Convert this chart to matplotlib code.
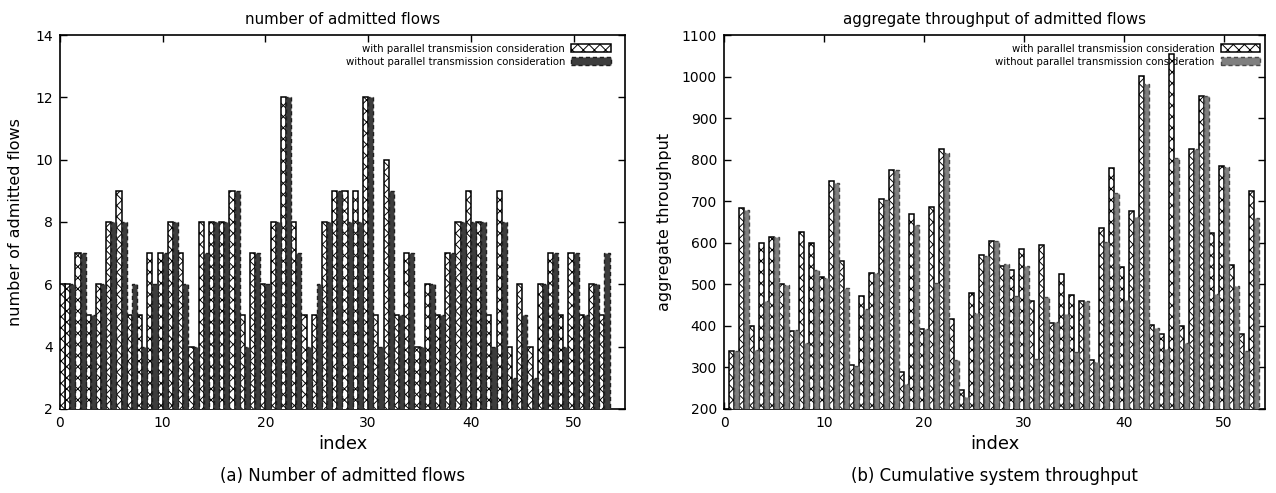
import numpy as np
import matplotlib
matplotlib.use("Agg")
import matplotlib.pyplot as plt

# index of each experiment run
idx = np.arange(1, 54)

# (a) number of admitted flows
flows_with = [6, 7, 5, 6, 8, 9, 5, 5, 7, 7, 8, 7, 4, 8, 8, 8, 9, 5, 7, 6, 8, 12, 8, 5, 5, 8, 9,
              9, 9, 12, 5, 10, 5, 7, 4, 6, 5, 7, 8, 9, 8, 5, 9, 4, 6, 4, 6, 7, 5, 7, 5, 6, 5]
flows_without = [6, 7, 5, 6, 8, 8, 6, 4, 6, 7, 8, 6, 4, 7, 8, 8, 9, 4, 7, 6, 8, 12, 7, 4, 6, 8, 9,
                 8, 8, 12, 4, 9, 5, 7, 4, 6, 5, 7, 8, 8, 8, 4, 8, 3, 5, 3, 6, 7, 4, 7, 5, 6, 7]
# stray "with" column drawn at the very left edge of plot (a)
lead_idx = [0]
lead_with = [6]

# (b) aggregate throughput
thr_with = [339, 683, 400, 599, 613, 500, 387, 625, 600, 518, 748, 555, 305, 472, 528, 705, 776,
            290, 670, 392, 686, 825, 417, 245, 479, 571, 605, 545, 535, 585, 459, 595, 407, 525,
            475, 461, 317, 635, 780, 541, 677, 1002, 403, 381, 1055, 400, 826, 953, 623, 785,
            547, 380, 725]
thr_without = [340, 680, 343, 460, 615, 498, 390, 360, 535, 515, 745, 490, 303, 440, 527, 703,
               775, 260, 643, 392, 503, 815, 319, 228, 432, 568, 605, 548, 472, 545, 320, 470,
               410, 428, 336, 459, 313, 603, 720, 463, 663, 981, 395, 344, 803, 360, 825, 953,
               476, 783, 496, 339, 659]

lab_with = "with parallel transmission consideration"
lab_without = "without parallel transmission consideration"

plt.rcParams['hatch.linewidth'] = 0.7
plt.rcParams['font.family'] = ['DejaVu Sans']

fig = plt.figure(figsize=(12.76, 4.93), dpi=100)
ax1 = fig.add_axes([0.0470, 0.1704, 0.4428, 0.7586])
ax2 = fig.add_axes([0.5674, 0.1704, 0.4240, 0.7586])

w = 0.5


def draw(ax, v_with, v_without, dark, dark_edge):
    ax.bar(idx - w / 2, v_with, width=w, color='white', edgecolor='black',
           hatch='xxx', linewidth=1.1, label=lab_with, zorder=3)
    ax.bar(idx + w / 2, v_without, width=w, color=dark, edgecolor=dark_edge,
           linestyle=(0, (3, 2)), linewidth=1.0, label=lab_without, zorder=3)
    ax.tick_params(direction='in', top=True, right=True, length=5, width=1,
                   labelsize=10, pad=5)
    for s in ax.spines.values():
        s.set_linewidth(1.2)
    ax.set_xticks(range(0, 51, 10))
    ax.set_xlabel('index', fontsize=13, labelpad=4)


draw(ax1, flows_with, flows_without, '#3d3d3d', '#1e1e1e')
ax1.bar(lead_idx, lead_with, width=w, align='edge', color='white', edgecolor='black',
        hatch='xxx', linewidth=1.1, zorder=3)
ax1.set_xlim(0, 55)
ax1.set_ylim(2, 14)
ax1.set_yticks(range(2, 15, 2))
ax1.set_title('number of admitted flows', fontsize=10.8, pad=8)
ax1.set_ylabel('number of admitted flows', fontsize=11.5, labelpad=9)

draw(ax2, thr_with, thr_without, '#7f7f7f', '#4a4a4a')
ax2.set_xlim(0, 54.1)
ax2.set_ylim(200, 1100)
ax2.set_yticks(range(200, 1101, 100))
ax2.set_title('aggregate throughput of admitted flows', fontsize=10.8, pad=8)
ax2.set_ylabel('aggregate throughput', fontsize=11.5, labelpad=7)

for ax, xr in ((ax1, 0.975), (ax2, 0.991)):
    leg = ax.legend(loc='upper right', bbox_to_anchor=(xr, 0.977), frameon=False,
                    markerfirst=False, fontsize=7.3, handlelength=3.9, handleheight=0.85,
                    handletextpad=0.6, labelspacing=0.3, borderpad=0, borderaxespad=0)
    leg.set_zorder(2)

fig.text(0.2684, 0.034, '(a) Number of admitted flows', ha='center', va='center', fontsize=12)
fig.text(0.7794, 0.034, '(b) Cumulative system throughput', ha='center', va='center', fontsize=12)

fig.savefig('out.png', dpi=100)
